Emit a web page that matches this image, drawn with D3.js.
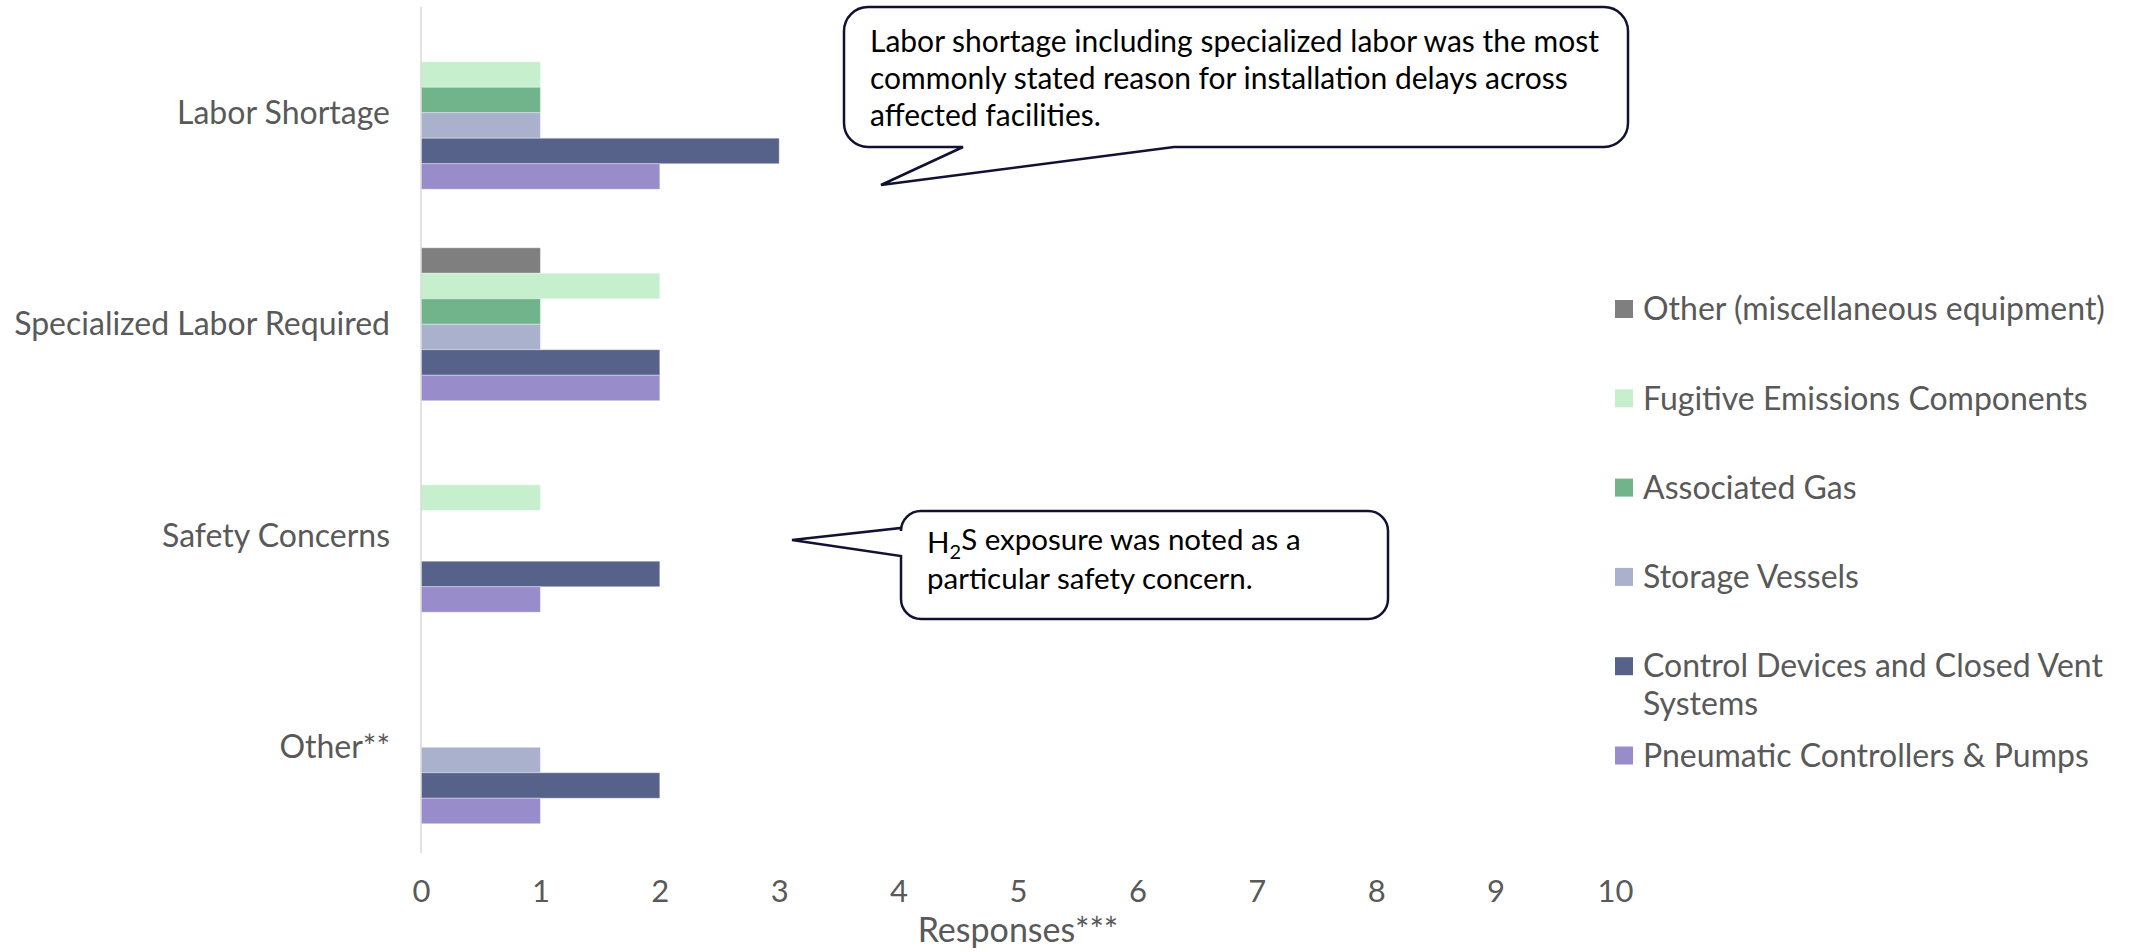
<!DOCTYPE html>
<html>
<head>
<meta charset="utf-8">
<script src="https://cdn.jsdelivr.net/npm/d3@7"></script>
<style>
  html, body { margin: 0; padding: 0; background: #ffffff; }
  svg { display: block; font-family: Lato, "Open Sans", sans-serif; }
</style>
</head>
<body>
<svg id="chart" width="2141" height="952"></svg>
<script>
// Reasons for installation delays, by equipment type (number of responses)
const categories = ["Labor Shortage", "Specialized Labor Required", "Safety Concerns", "Other**"];
const seriesNames = [
  "Other (miscellaneous equipment)",
  "Fugitive Emissions Components",
  "Associated Gas",
  "Storage Vessels",
  "Control Devices and Closed Vent Systems",
  "Pneumatic Controllers & Pumps"
];
const seriesColors = ["#7f7f7f", "#c6efce", "#71b48b", "#a9b1cd", "#57628b", "#988dca"];

const otherEquipment   = [0, 1, 0, 0];
const fugitive         = [1, 2, 1, 0];
const associatedGas    = [1, 1, 0, 0];
const storageVessels   = [1, 1, 0, 1];
const controlDevices   = [3, 2, 2, 2];
const pneumatic        = [2, 2, 1, 1];
const seriesValues = [otherEquipment, fugitive, associatedGas, storageVessels, controlDevices, pneumatic];

const xTicks = [0, 1, 2, 3, 4, 5, 6, 7, 8, 9, 10];
const xTitle = "Responses***";

const note1 = ["Labor shortage including specialized labor was the most",
               "commonly stated reason for installation delays across",
               "affected facilities."];

const svg = d3.select("#chart");
const textGray = "#595959";

const plot = { left: 421, right: 1615, top: 7, bottom: 853 };

const x = d3.scaleLinear().domain([0, 10]).range([plot.left, plot.right]);
const y = d3.scaleBand().domain(categories).range([plot.top, plot.bottom])
  .paddingInner(0.277).paddingOuter(0.1385);
const ySub = d3.scaleBand().domain(seriesNames).range([0, y.bandwidth()]);

// bars
const groups = svg.append("g").selectAll("g")
  .data(categories)
  .join("g")
  .attr("transform", d => `translate(0,${y(d)})`);

groups.selectAll("rect")
  .data((c, ci) => seriesNames.map((s, si) => ({ s, si, v: seriesValues[si][ci] })).filter(d => d.v > 0))
  .join("rect")
  .attr("x", x(0))
  .attr("y", d => ySub(d.s))
  .attr("width", d => x(d.v) - x(0))
  .attr("height", ySub.bandwidth())
  .attr("fill", d => seriesColors[d.si])
  .attr("stroke", "rgba(255,255,255,0.35)")
  .attr("stroke-width", 1);

// vertical category axis line
svg.append("line")
  .attr("x1", x(0)).attr("x2", x(0))
  .attr("y1", plot.top).attr("y2", plot.bottom)
  .attr("stroke", "#d9d9d9").attr("stroke-width", 1.5);

// category labels
svg.append("g").selectAll("text")
  .data(categories)
  .join("text")
  .attr("x", x(0) - 31)
  .attr("y", d => y(d) + y.bandwidth() / 2)
  .attr("dy", "0.35em")
  .attr("text-anchor", "end")
  .attr("fill", textGray)
  .attr("font-size", 32)
  .text(d => d);

// value axis
const xAxis = svg.append("g")
  .attr("transform", `translate(0,${plot.bottom})`)
  .call(d3.axisBottom(x).tickValues(xTicks).tickSize(0).tickPadding(27).tickFormat(d3.format("d")));
xAxis.select(".domain").remove();
xAxis.selectAll("text")
  .attr("fill", textGray)
  .attr("font-size", 31)
  .attr("font-family", "Lato, sans-serif");

svg.append("text")
  .attr("x", (plot.left + plot.right) / 2)
  .attr("y", 942)
  .attr("text-anchor", "middle")
  .attr("fill", textGray)
  .attr("font-size", 34)
  .text(xTitle);

// legend
const legend = svg.append("g").attr("transform", "translate(1615,0)");
const legendRows = legend.selectAll("g")
  .data(seriesNames)
  .join("g")
  .attr("transform", (d, i) => `translate(0,${309 + i * 89.3})`);
legendRows.append("rect")
  .attr("x", 0).attr("y", -9)
  .attr("width", 18).attr("height", 18)
  .attr("fill", (d, i) => seriesColors[i]);
legendRows.append("text")
  .attr("x", 28)
  .attr("fill", textGray)
  .attr("font-size", 32)
  .each(function (d) {
    const t = d3.select(this);
    const lines = d === "Control Devices and Closed Vent Systems"
      ? ["Control Devices and Closed Vent", "Systems"] : [d];
    lines.forEach((line, k) => {
      t.append("tspan").attr("x", 28).attr("y", k * 38).attr("dy", "0.35em").text(line);
    });
  });

// speech-bubble callouts
function bubbleBottom(x0, y0, x1, y1, r, tA, tip, tB) {
  // tail leaves the bottom edge between tA (right) and tB (left)
  return `M${x0 + r},${y0} H${x1 - r} A${r},${r} 0 0 1 ${x1},${y0 + r} V${y1 - r} A${r},${r} 0 0 1 ${x1 - r},${y1}
          H${tA} L${tip[0]},${tip[1]} L${tB},${y1} H${x0 + r} A${r},${r} 0 0 1 ${x0},${y1 - r} V${y0 + r} A${r},${r} 0 0 1 ${x0 + r},${y0} Z`;
}
function bubbleLeft(x0, y0, x1, y1, r, tA, tip, tB) {
  // tail leaves the left edge between tA (lower) and tB (upper)
  return `M${x0 + r},${y0} H${x1 - r} A${r},${r} 0 0 1 ${x1},${y0 + r} V${y1 - r} A${r},${r} 0 0 1 ${x1 - r},${y1}
          H${x0 + r} A${r},${r} 0 0 1 ${x0},${y1 - r} V${tA} L${tip[0]},${tip[1]} L${x0},${tB} V${y0 + r} A${r},${r} 0 0 1 ${x0 + r},${y0} Z`;
}

const bubbleStroke = "#111133";

svg.append("path")
  .attr("d", bubbleBottom(844, 7, 1628, 147, 24, 1174, [881, 185], 963))
  .attr("fill", "#ffffff").attr("stroke", bubbleStroke).attr("stroke-width", 2.5)
  .attr("stroke-linejoin", "miter");

const n1 = svg.append("text").attr("fill", "#000000").attr("font-size", 30);
note1.forEach((line, i) => {
  n1.append("tspan").attr("x", 870).attr("y", 41 + i * 37).attr("dy", "0.35em").text(line);
});

svg.append("path")
  .attr("d", bubbleLeft(901, 511, 1388, 619, 20, 556, [792, 540], 528))
  .attr("fill", "#ffffff").attr("stroke", bubbleStroke).attr("stroke-width", 2.5);

const n2 = svg.append("text").attr("fill", "#000000").attr("font-size", 29.5);
const l1 = n2.append("tspan").attr("x", 927).attr("y", 543).attr("dy", "0.35em");
l1.append("tspan").text("H");
l1.append("tspan").attr("font-size", 20).attr("dy", "0.3em").text("2");
l1.append("tspan").attr("dy", "-0.3em").text("S exposure was noted as a");
n2.append("tspan").attr("x", 927).attr("y", 579).attr("dy", "0.35em").text("particular safety concern.");
</script>
</body>
</html>
